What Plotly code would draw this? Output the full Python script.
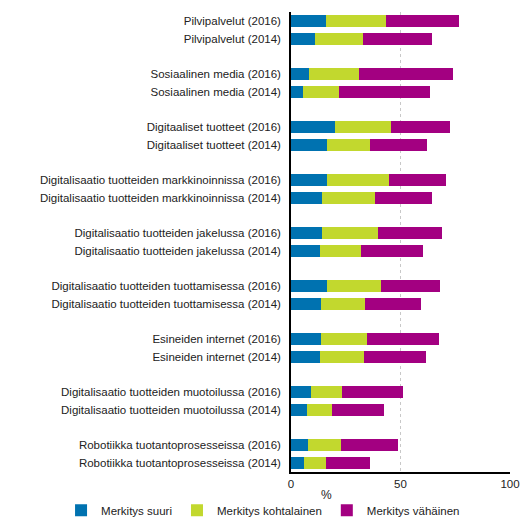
import plotly.graph_objects as go

# Categories (top to bottom), blank strings act as spacers between groups
categories = [
    "Pilvipalvelut (2016)", "Pilvipalvelut (2014)", " ",
    "Sosiaalinen media (2016)", "Sosiaalinen media (2014)", "  ",
    "Digitaaliset tuotteet (2016)", "Digitaaliset tuotteet (2014)", "   ",
    "Digitalisaatio tuotteiden markkinoinnissa (2016)", "Digitalisaatio tuotteiden markkinoinnissa (2014)", "    ",
    "Digitalisaatio tuotteiden jakelussa (2016)", "Digitalisaatio tuotteiden jakelussa (2014)", "     ",
    "Digitalisaatio tuotteiden tuottamisessa (2016)", "Digitalisaatio tuotteiden tuottamisessa (2014)", "      ",
    "Esineiden internet (2016)", "Esineiden internet (2014)", "       ",
    "Digitalisaatio tuotteiden muotoilussa (2016)", "Digitalisaatio tuotteiden muotoilussa (2014)", "        ",
    "Robotiikka tuotantoprosesseissa (2016)", "Robotiikka tuotantoprosesseissa (2014)",
]

suuri = [16.0, 10.8, None, 8.1, 5.3, None, 20.0, 16.3, None, 16.3, 14.0, None,
         14.0, 13.1, None, 16.3, 13.6, None, 13.6, 13.1, None, 9.0, 7.2, None, 7.6, 5.8]
kohtalainen = [27.4, 22.0, None, 22.9, 16.5, None, 25.6, 19.7, None, 28.4, 24.3, None,
               25.7, 18.8, None, 24.8, 20.1, None, 21.1, 20.2, None, 14.2, 11.4, None, 15.1, 10.1]
vahainen = [33.4, 31.6, None, 43.0, 41.7, None, 27.1, 26.1, None, 26.1, 26.1, None,
            29.3, 28.4, None, 27.0, 25.7, None, 32.9, 28.4, None, 27.9, 23.8, None, 26.2, 20.1]

series = [
    ("Merkitys suuri", suuri, "#0072B0"),
    ("Merkitys kohtalainen", kohtalainen, "#C2D82E"),
    ("Merkitys vähäinen", vahainen, "#A30081"),
]

fig = go.Figure()
for name, vals, color in series:
    fig.add_trace(go.Bar(
        y=categories,
        x=vals,
        name=name,
        orientation="h",
        marker=dict(color=color, line=dict(width=0)),
    ))

# page body has an 8px margin, so the figure is sized 521 to fill 529
fig.update_layout(
    barmode="stack",
    bargap=0.32,
    width=521,
    height=521,
    margin=dict(l=283, r=19, t=4, b=57, autoexpand=False),
    paper_bgcolor="white",
    plot_bgcolor="white",
    font=dict(family="Liberation Sans, Arial, sans-serif", size=11.5, color="#222222"),
    showlegend=True,
    legend=dict(
        orientation="h",
        xref="paper",
        yref="paper",
        x=-1.05,
        xanchor="left",
        y=-0.083,
        yanchor="middle",
        bgcolor="rgba(0,0,0,0)",
        font=dict(size=11.5),
        itemwidth=30,
        traceorder="normal",
    ),
    annotations=[dict(
        text="%",
        xref="paper",
        yref="paper",
        x=0.164,
        y=-0.05,
        xanchor="center",
        yanchor="middle",
        showarrow=False,
        font=dict(size=12),
    )],
)

fig.update_xaxes(
    range=[0, 100],
    tickvals=[0, 50, 100],
    showgrid=True,
    gridcolor="#c8c8c8",
    griddash="dot",
    gridwidth=1,
    showline=True,
    linecolor="black",
    linewidth=1.5,
    zeroline=False,
    ticks="",
    automargin=False,
    tickfont=dict(size=11.5),
)

fig.update_yaxes(
    categoryorder="array",
    categoryarray=categories,
    autorange="reversed",
    showline=True,
    linecolor="black",
    linewidth=1.5,
    showgrid=False,
    ticks="",
    automargin=False,
    ticklabelstandoff=6,
    tickfont=dict(size=11.5),
)

fig.write_html("out.html")
